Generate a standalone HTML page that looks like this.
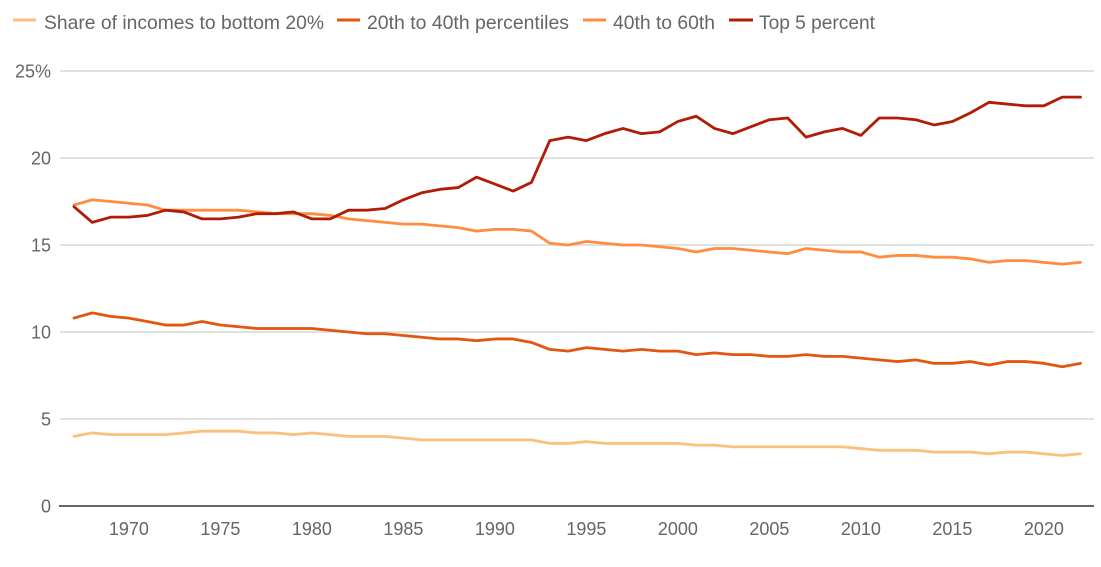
<!DOCTYPE html>
<html><head><meta charset="utf-8"><style>
html,body{margin:0;padding:0;background:#fff;}
svg{display:block;font-family:"Liberation Sans",sans-serif;}
</style></head><body>
<svg width="1101" height="567" viewBox="0 0 1101 567" xmlns="http://www.w3.org/2000/svg">
<!-- legend -->
<g stroke-width="3">
<line x1="13" y1="20" x2="36" y2="20" stroke="#fdc07c"/>
<line x1="337" y1="20" x2="360" y2="20" stroke="#e4560f"/>
<line x1="583" y1="20" x2="606" y2="20" stroke="#ff8c3f"/>
<line x1="729" y1="20" x2="753" y2="20" stroke="#b01c06"/>
</g>
<g fill="#666" font-size="19.5">
<text x="44" y="29" textLength="280" lengthAdjust="spacingAndGlyphs">Share of incomes to bottom 20%</text>
<text x="367" y="29" textLength="202" lengthAdjust="spacingAndGlyphs">20th to 40th percentiles</text>
<text x="613" y="29" textLength="102" lengthAdjust="spacingAndGlyphs">40th to 60th</text>
<text x="759" y="29" textLength="116" lengthAdjust="spacingAndGlyphs">Top 5 percent</text>
</g>
<!-- gridlines -->
<g stroke="#cfcfcf" stroke-width="1.3">
<line x1="60" y1="71" x2="1094" y2="71"/>
<line x1="60" y1="158" x2="1094" y2="158"/>
<line x1="60" y1="245" x2="1094" y2="245"/>
<line x1="60" y1="332" x2="1094" y2="332"/>
<line x1="60" y1="419" x2="1094" y2="419"/>
</g>
<line x1="59" y1="506" x2="1094" y2="506" stroke="#333" stroke-width="1.6"/>
<!-- y labels -->
<g fill="#666" font-size="18" text-anchor="end">
<text x="51" y="77.5">25%</text>
<text x="51" y="164.5">20</text>
<text x="51" y="251.5">15</text>
<text x="51" y="338.5">10</text>
<text x="51" y="425.5">5</text>
<text x="51" y="512.5">0</text>
</g>
<!-- x labels -->
<g fill="#666" font-size="18" text-anchor="middle">
<text x="128.9" y="535">1970</text>
<text x="220.4" y="535">1975</text>
<text x="311.9" y="535">1980</text>
<text x="403.4" y="535">1985</text>
<text x="494.9" y="535">1990</text>
<text x="586.4" y="535">1995</text>
<text x="677.9" y="535">2000</text>
<text x="769.4" y="535">2005</text>
<text x="860.9" y="535">2010</text>
<text x="952.4" y="535">2015</text>
<text x="1043.9" y="535">2020</text>
</g>
<!-- series -->
<g transform="translate(74,506) scale(18.3,-17.4)" fill="none" stroke-linejoin="round" stroke-linecap="round">
<polyline vector-effect="non-scaling-stroke" stroke="#fdc07c" stroke-width="2.8" points="0,4.0 1,4.2 2,4.1 3,4.1 4,4.1 5,4.1 6,4.2 7,4.3 8,4.3 9,4.3 10,4.2 11,4.2 12,4.1 13,4.2 14,4.1 15,4.0 16,4.0 17,4.0 18,3.9 19,3.8 20,3.8 21,3.8 22,3.8 23,3.8 24,3.8 25,3.8 26,3.6 27,3.6 28,3.7 29,3.6 30,3.6 31,3.6 32,3.6 33,3.6 34,3.5 35,3.5 36,3.4 37,3.4 38,3.4 39,3.4 40,3.4 41,3.4 42,3.4 43,3.3 44,3.2 45,3.2 46,3.2 47,3.1 48,3.1 49,3.1 50,3.0 51,3.1 52,3.1 53,3.0 54,2.9 55,3.0"/>
<polyline vector-effect="non-scaling-stroke" stroke="#e4560f" stroke-width="2.8" points="0,10.8 1,11.1 2,10.9 3,10.8 4,10.6 5,10.4 6,10.4 7,10.6 8,10.4 9,10.3 10,10.2 11,10.2 12,10.2 13,10.2 14,10.1 15,10.0 16,9.9 17,9.9 18,9.8 19,9.7 20,9.6 21,9.6 22,9.5 23,9.6 24,9.6 25,9.4 26,9.0 27,8.9 28,9.1 29,9.0 30,8.9 31,9.0 32,8.9 33,8.9 34,8.7 35,8.8 36,8.7 37,8.7 38,8.6 39,8.6 40,8.7 41,8.6 42,8.6 43,8.5 44,8.4 45,8.3 46,8.4 47,8.2 48,8.2 49,8.3 50,8.1 51,8.3 52,8.3 53,8.2 54,8.0 55,8.2"/>
<polyline vector-effect="non-scaling-stroke" stroke="#ff8c3f" stroke-width="2.8" points="0,17.3 1,17.6 2,17.5 3,17.4 4,17.3 5,17.0 6,17.0 7,17.0 8,17.0 9,17.0 10,16.9 11,16.8 12,16.8 13,16.8 14,16.7 15,16.5 16,16.4 17,16.3 18,16.2 19,16.2 20,16.1 21,16.0 22,15.8 23,15.9 24,15.9 25,15.8 26,15.1 27,15.0 28,15.2 29,15.1 30,15.0 31,15.0 32,14.9 33,14.8 34,14.6 35,14.8 36,14.8 37,14.7 38,14.6 39,14.5 40,14.8 41,14.7 42,14.6 43,14.6 44,14.3 45,14.4 46,14.4 47,14.3 48,14.3 49,14.2 50,14.0 51,14.1 52,14.1 53,14.0 54,13.9 55,14.0"/>
<polyline vector-effect="non-scaling-stroke" stroke="#b01c06" stroke-width="2.8" points="0,17.2 1,16.3 2,16.6 3,16.6 4,16.7 5,17.0 6,16.9 7,16.5 8,16.5 9,16.6 10,16.8 11,16.8 12,16.9 13,16.5 14,16.5 15,17.0 16,17.0 17,17.1 18,17.6 19,18.0 20,18.2 21,18.3 22,18.9 23,18.5 24,18.1 25,18.6 26,21.0 27,21.2 28,21.0 29,21.4 30,21.7 31,21.4 32,21.5 33,22.1 34,22.4 35,21.7 36,21.4 37,21.8 38,22.2 39,22.3 40,21.2 41,21.5 42,21.7 43,21.3 44,22.3 45,22.3 46,22.2 47,21.9 48,22.1 49,22.6 50,23.2 51,23.1 52,23.0 53,23.0 54,23.5 55,23.5"/>
</g>
</svg>
</body></html>
